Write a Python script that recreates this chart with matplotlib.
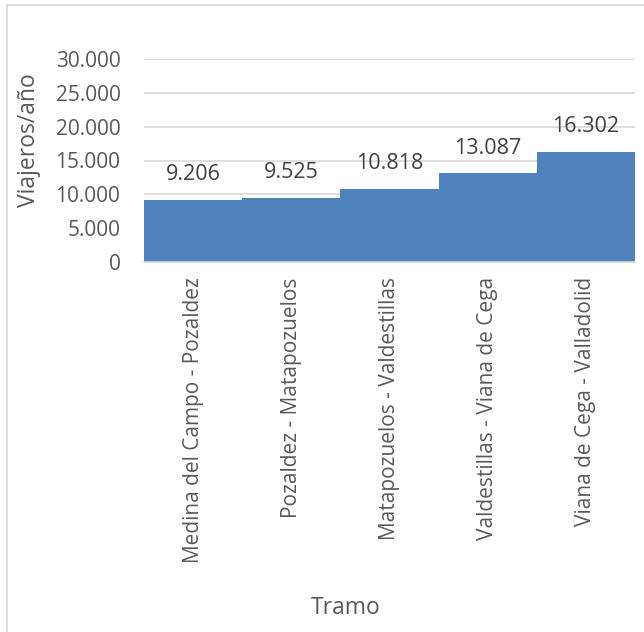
import matplotlib.pyplot as plt
from matplotlib.patches import Rectangle
from matplotlib.ticker import FuncFormatter

plt.rcParams['font.family'] = ['Open Sans', 'DejaVu Sans']

# Data
tramos = ["Medina del Campo - Pozaldez", "Pozaldez - Matapozuelos",
          "Matapozuelos - Valdestillas", "Valdestillas - Viana de Cega",
          "Viana de Cega - Valladolid"]
viajeros = [9206, 9525, 10818, 13087, 16302]
etiquetas = ["9.206", "9.525", "10.818", "13.087", "16.302"]
yticks = [0, 5000, 10000, 15000, 20000, 25000, 30000]

txt = '#595959'

fig = plt.figure(figsize=(6.44, 6.32), dpi=100)
ax = fig.add_axes([144/644, 1 - 262/632, (635 - 144)/644, (262 - 59)/632])

x = range(len(tramos))
ax.bar(x, viajeros, width=1.0, color='#4F81BD', linewidth=0, zorder=3)

for i, v in enumerate(viajeros):
    ax.annotate(etiquetas[i], (i, v), xytext=(0, 18), textcoords='offset points',
                ha='center', va='center', fontsize=15.5, color='#404040')

ax.set_xlim(-0.5, len(tramos) - 0.5)
ax.set_ylim(0, 30000)
ax.set_yticks(yticks)
ax.yaxis.set_major_formatter(FuncFormatter(lambda v, p: f"{int(v):,}".replace(",", ".")))
ax.grid(axis='y', color='#D9D9D9', linewidth=1.2, zorder=0)
ax.set_xticks(list(x))
ax.set_xticklabels(tramos, rotation=90, fontsize=15, color=txt)
ax.tick_params(axis='y', labelsize=15, labelcolor=txt, length=0, pad=17)
ax.tick_params(axis='x', length=0, pad=11)

for s in ['top', 'right', 'left']:
    ax.spines[s].set_visible(False)
ax.spines['bottom'].set_color('#D9D9D9')
ax.spines['bottom'].set_linewidth(1.2)
ax.spines['bottom'].set_zorder(4)

fig.text(29/644, 1 - 140/632, "Viajeros/año", rotation=90, ha='center', va='center',
         fontsize=16.5, color=txt)
fig.text(346/644, 1 - 608/632, "Tramo", ha='center', va='center', fontsize=16.5, color=txt)

# chart border
fig.patches.append(Rectangle((7/644, -0.1), 1.2, 1 - 5/632 + 0.1, transform=fig.transFigure,
                             fill=False, edgecolor='#D9D9D9', linewidth=1.2))

fig.savefig('out.png', dpi=100)
